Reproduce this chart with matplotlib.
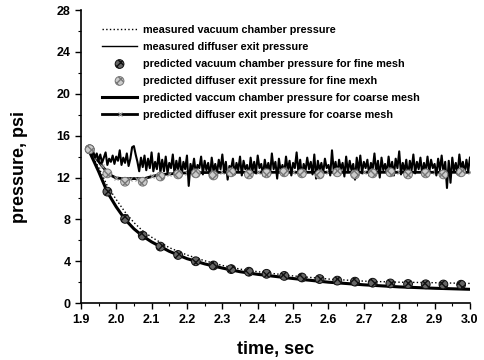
import numpy as np
import matplotlib
matplotlib.use('Agg')
import matplotlib.pyplot as plt
from matplotlib.ticker import MultipleLocator

plt.rcParams['font.family'] = ['Liberation Sans', 'DejaVu Sans']
plt.rcParams['font.weight'] = 'bold'

# measured vacuum chamber pressure (dotted)
t_vac_meas = [1.92, 1.95, 1.975, 2.0, 2.025, 2.05, 2.075, 2.1, 2.15, 2.2, 2.25,
              2.3, 2.35, 2.4, 2.5, 2.6, 2.7, 2.8, 2.9, 3.0]
p_vac_meas = [14.8, 13.0, 11.2, 9.9, 8.7, 7.7, 6.9, 6.3, 5.3, 4.6, 4.05,
              3.6, 3.25, 3.0, 2.6, 2.3, 2.1, 2.0, 1.95, 1.88]

# measured diffuser exit pressure (noisy signal, step 0.005 s from 1.935 s)
t_diff_meas = np.arange(1.935, 3.0001, 0.005)
p_diff_meas = [
    14.5, 13.9, 14.3, 13.6, 14.2, 13.4, 13.9, 14.4, 13.2, 13.8,
    13.5, 14.1, 13.3, 14.0, 13.6, 14.6, 13.2, 13.9, 13.4, 14.3,
    13.1, 13.8, 14.9, 15.0, 14.2, 13.5, 12.6, 13.9, 13.0, 14.1,
    12.7, 13.8, 12.9, 14.4, 12.6, 13.5, 12.8, 14.3, 12.5, 13.7,
    12.6, 14.0, 12.4, 13.4, 12.9, 14.2, 12.3, 13.6, 12.7, 13.9,
    12.2, 13.5, 12.8, 14.1, 11.2, 13.3, 12.6, 13.8, 12.4, 13.2,
    12.9, 14.0, 12.3, 13.6, 12.7, 13.4, 12.1, 13.9, 12.6, 13.3,
    12.4, 13.7, 12.8, 14.2, 12.5, 13.5, 11.8, 13.1, 12.9, 13.8,
    12.3, 13.4, 12.7, 14.0, 12.2, 13.6, 12.8, 13.2, 12.1, 13.9,
    12.6, 13.5, 12.4, 14.1, 12.9, 13.3, 12.2, 13.7, 12.7, 13.4,
    12.3, 14.3, 12.8, 13.5, 11.9, 13.8, 12.6, 13.2, 12.4, 14.0,
    12.7, 13.6, 12.2, 13.4, 12.9, 14.4, 12.5, 13.7, 12.1, 13.3,
    12.6, 13.9, 12.8, 13.5, 12.3, 14.2, 11.9, 13.6, 12.7, 13.4,
    12.4, 13.8, 12.9, 13.2, 12.2, 14.6, 12.6, 13.5, 12.3, 13.7,
    12.8, 13.4, 12.1, 14.0, 12.5, 13.6, 12.7, 13.3, 11.8, 13.9,
    12.6, 14.1, 12.4, 13.5, 12.9, 13.7, 12.2, 13.4, 12.8, 14.3,
    12.5, 13.6, 12.0, 13.9, 12.7, 13.3, 12.4, 14.0, 12.6, 13.5,
    12.2, 13.8, 12.9, 14.5, 12.3, 13.4, 12.6, 13.7, 12.1, 13.6,
    12.7, 14.2, 12.4, 13.5, 12.8, 13.9, 12.3, 13.4, 12.6, 14.0,
    12.5, 13.7, 12.9, 13.3, 12.2, 13.8, 12.7, 14.1, 12.4, 13.5,
    11.0, 13.6, 11.5, 13.9, 12.6, 13.4, 12.3, 14.2, 12.8, 13.5,
    12.4, 13.7, 12.6, 13.9,
]

# fine mesh predictions (markers)
t_fine = [1.925, 1.975, 2.025, 2.075, 2.125, 2.175, 2.225, 2.275, 2.325, 2.375, 2.425,
          2.475, 2.525, 2.575, 2.625, 2.675, 2.725, 2.775, 2.825, 2.875, 2.925, 2.975]
p_vac_fine = [14.7, 10.65, 8.05, 6.45, 5.4, 4.6, 4.0, 3.6, 3.25, 3.0, 2.8,
              2.6, 2.45, 2.3, 2.15, 2.05, 1.95, 1.88, 1.83, 1.8, 1.78, 1.76]
p_diff_fine = [14.7, 12.4, 11.6, 11.6, 12.1, 12.3, 12.4, 12.2, 12.5, 12.3, 12.4,
               12.5, 12.4, 12.3, 12.5, 12.3, 12.4, 12.5, 12.3, 12.4, 12.3, 12.5]

# coarse mesh predictions (thick lines)
t_vac_coarse = [1.92, 1.95, 1.975, 2.0, 2.025, 2.05, 2.075, 2.1, 2.15, 2.2, 2.25,
                2.3, 2.35, 2.4, 2.5, 2.6, 2.7, 2.8, 2.9, 3.0]
p_vac_coarse = [14.8, 12.6, 10.6, 9.2, 8.0, 7.1, 6.4, 5.85, 4.95, 4.25, 3.75,
                3.35, 3.0, 2.75, 2.35, 2.0, 1.75, 1.55, 1.42, 1.32]
t_diff_coarse = [1.92, 1.94, 1.96, 1.98, 2.0, 2.02, 2.04, 2.06, 2.08, 2.1, 2.12,
                 2.15, 2.2, 2.3, 2.4, 2.5, 2.6, 2.7, 2.8, 2.9, 3.0]
p_diff_coarse = [14.8, 14.0, 13.1, 12.3, 11.95, 11.9, 11.9, 11.9, 11.9, 12.1, 12.25,
                 12.35, 12.45, 12.5, 12.5, 12.5, 12.5, 12.5, 12.5, 12.5, 12.5]

fig = plt.figure(figsize=(4.84, 3.6), dpi=100)
ax = fig.add_axes([0.167, 0.158, 0.804, 0.814])

ax.plot(t_vac_meas, p_vac_meas, ':', color='black', lw=1.0,
        label='measured vacuum chamber pressure', zorder=2)
ax.plot(t_diff_meas, p_diff_meas, '-', color='black', lw=1.5,
        label='measured diffuser exit pressure', zorder=3)
ax.plot(t_vac_coarse, p_vac_coarse, '-', color='black', lw=2.2, zorder=4,
        label='predicted vaccum chamber pressure for coarse mesh')
ax.plot(t_diff_coarse, p_diff_coarse, '-', color='black', lw=2.0, zorder=2,
        marker='x', ms=3, mec='#999999', mew=0.8,
        label='predicted diffuser exit pressure for coarse mesh')
ax.scatter(t_fine, p_vac_fine, s=40, facecolor='#666666', edgecolor='#111111',
           hatch='xxxx', lw=0.7, zorder=5,
           label='predicted vacuum chamber pressure for fine mesh')
ax.scatter(t_fine, p_diff_fine, s=40, facecolor='#cccccc', edgecolor='#777777',
           hatch='xxxx', lw=0.7, zorder=5,
           label='predicted diffuser exit pressure for fine mexh')

handles, labels = ax.get_legend_handles_labels()
order = [0, 1, 4, 5, 2, 3]
leg = ax.legend([handles[i] for i in order], [labels[i] for i in order],
                loc='upper left', bbox_to_anchor=(102 / 484, 1 - 25 / 360),
                bbox_transform=fig.transFigure, frameon=False,
                prop={'size': 7.8, 'weight': 'bold'}, handlelength=3.24,
                handletextpad=0.55, labelspacing=0.64, borderaxespad=0, borderpad=0)
leg.get_lines()[1].set_linewidth(1.0)

ax.set_xlim(1.9, 3.0)
ax.set_ylim(0, 28)
ax.xaxis.set_major_locator(MultipleLocator(0.1))
ax.xaxis.set_minor_locator(MultipleLocator(0.05))
ax.yaxis.set_major_locator(MultipleLocator(4))
ax.yaxis.set_minor_locator(MultipleLocator(2))
ax.spines['top'].set_visible(False)
ax.spines['right'].set_visible(False)
ax.spines['left'].set_linewidth(1.2)
ax.spines['bottom'].set_linewidth(1.2)
ax.tick_params(which='major', length=4, width=1.0, labelsize=9)
ax.tick_params(which='minor', length=2, width=0.8)
for lab in ax.get_xticklabels() + ax.get_yticklabels():
    lab.set_fontweight('bold')

ax.set_xlabel('time, sec', fontsize=13, fontweight='bold', labelpad=11)
ax.set_ylabel('pressure, psi', fontsize=13, fontweight='bold', labelpad=17)
ax.yaxis.set_label_coords(-0.136, 0.466)

fig.savefig('out.png', dpi=100)
